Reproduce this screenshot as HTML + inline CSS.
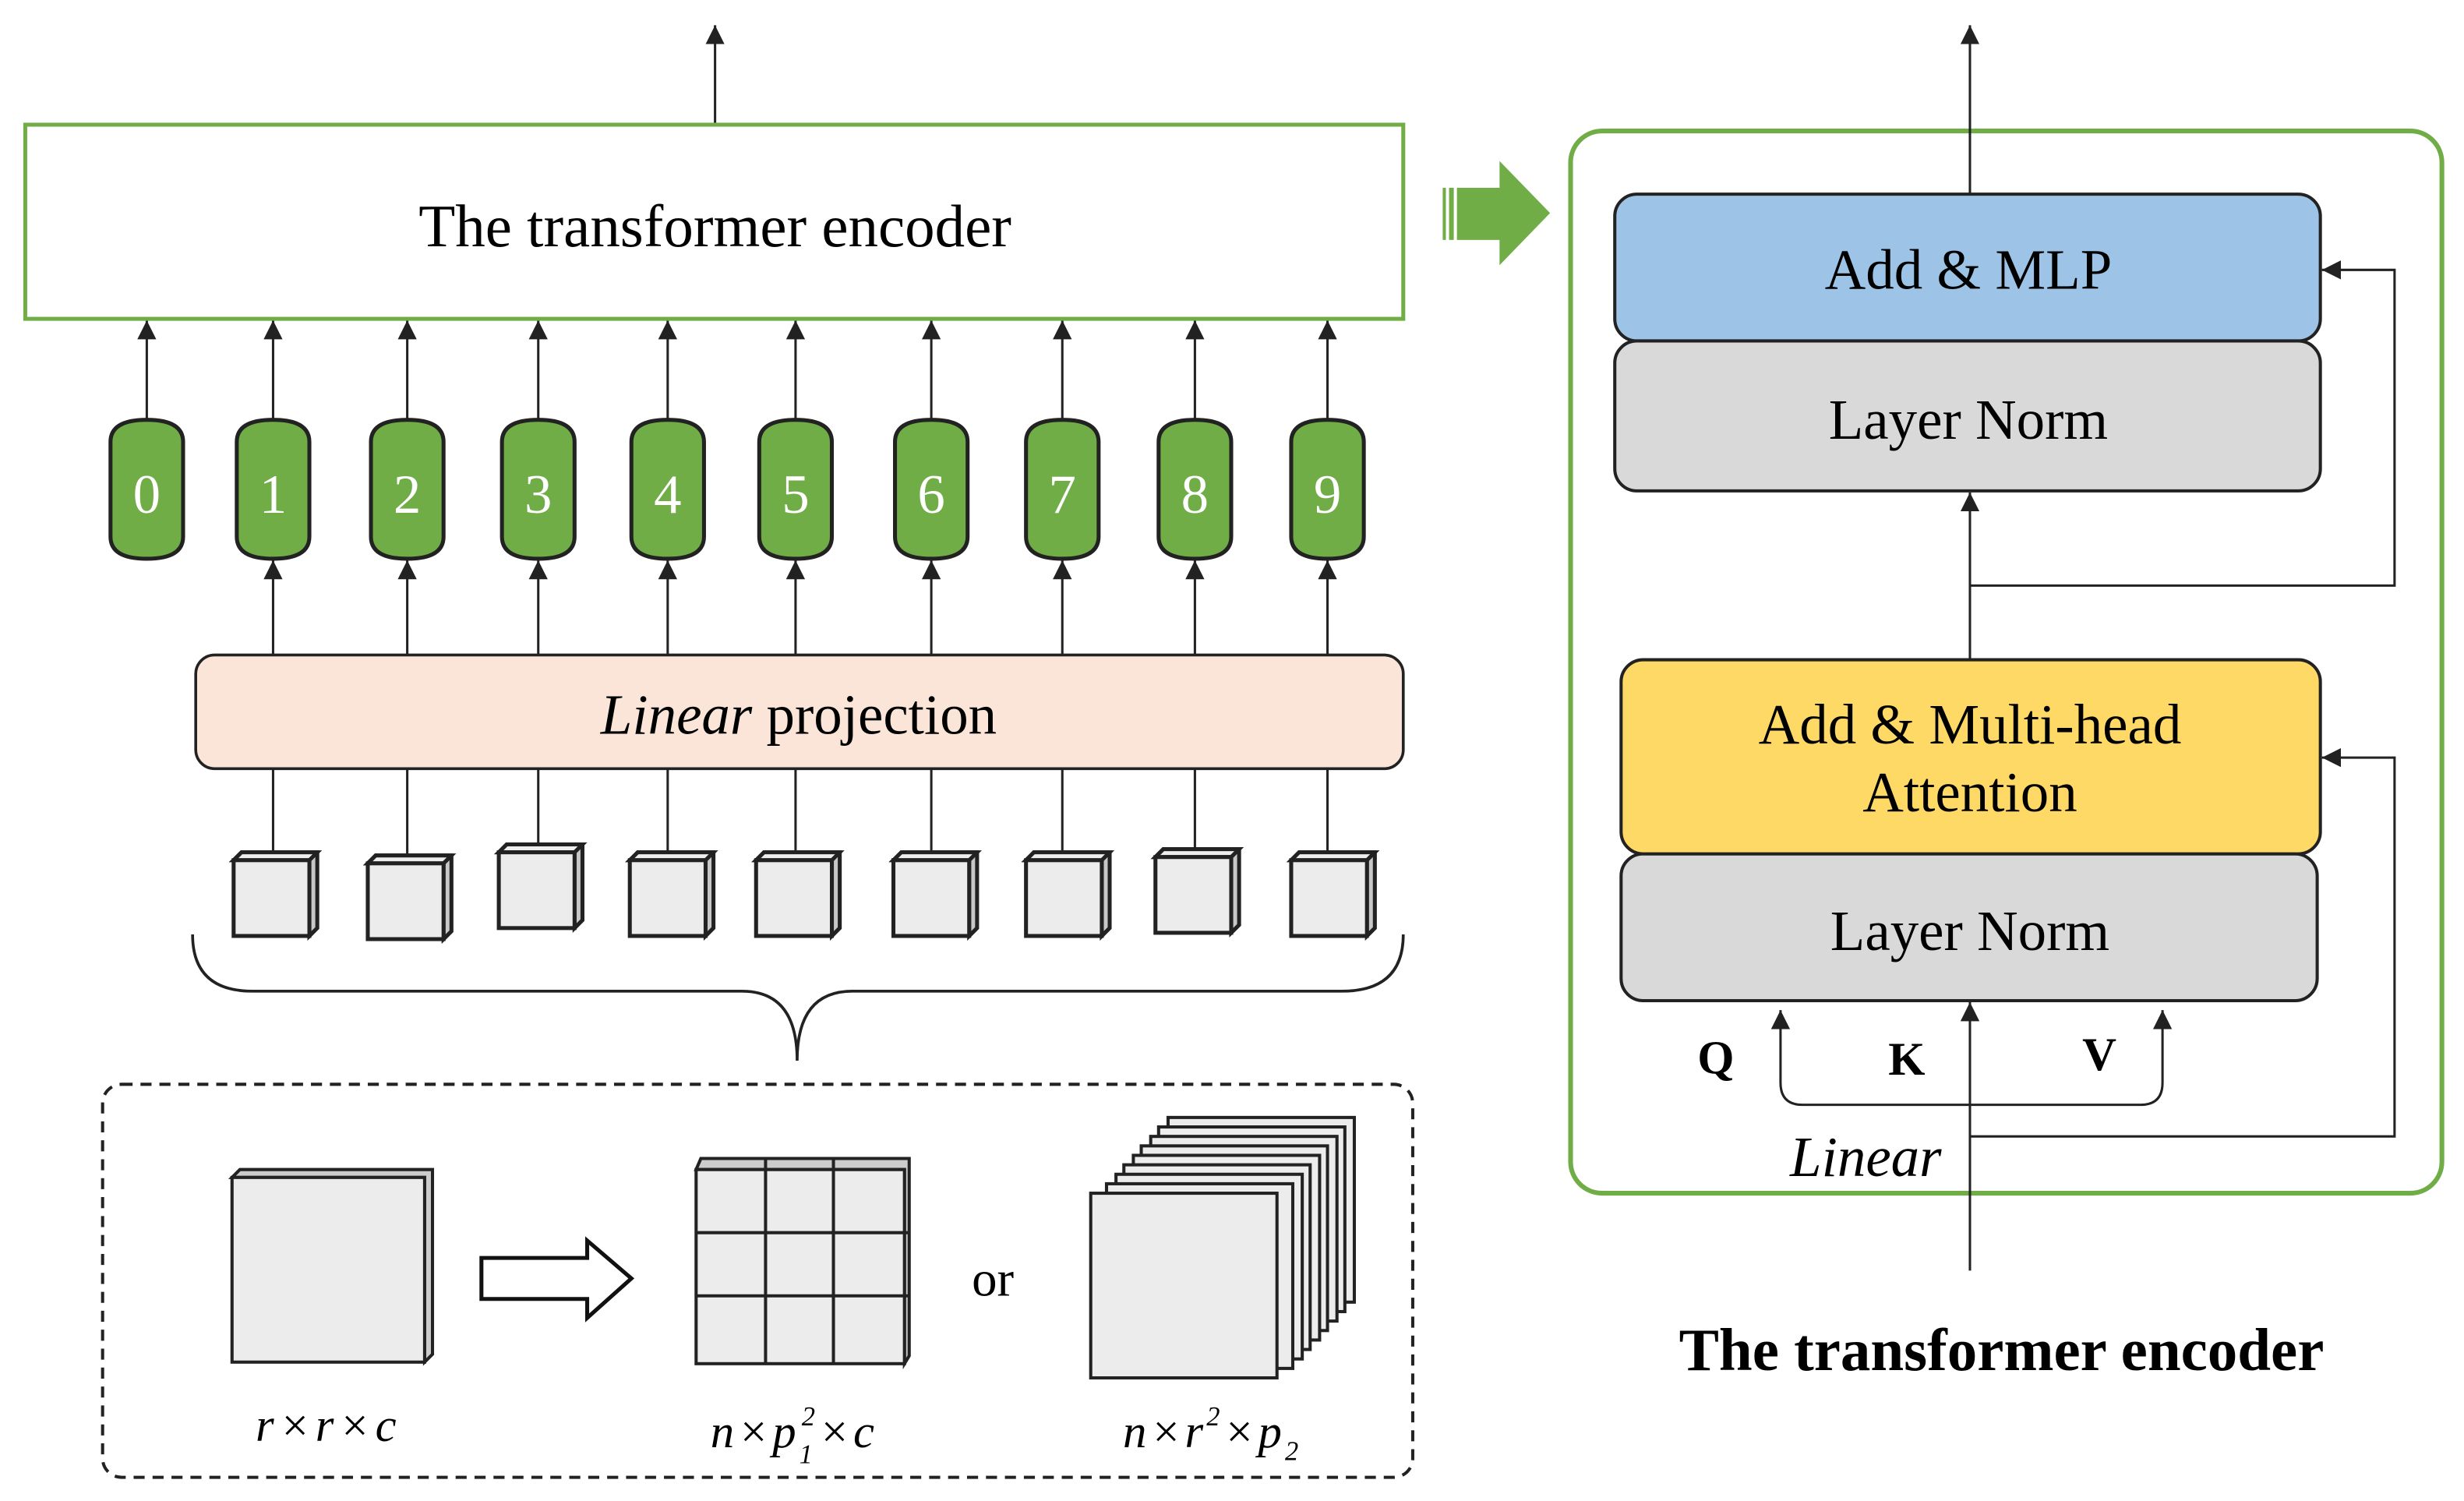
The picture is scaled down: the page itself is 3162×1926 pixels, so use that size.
<!DOCTYPE html>
<html><head><meta charset="utf-8"><style>html,body{margin:0;padding:0;background:#fff}svg{display:block}text{font-family:"Liberation Serif",serif}</style></head>
<body>
<svg width="3162" height="1926" viewBox="0 0 1561 951" preserveAspectRatio="none" xmlns="http://www.w3.org/2000/svg">
<defs>
<marker id="ah" markerWidth="12" markerHeight="12" refX="10" refY="5" orient="auto" markerUnits="userSpaceOnUse" viewBox="0 0 10 10"><path d="M0,0 L10,5 L0,10Z" fill="#222"/></marker>
<g id="cube"><path d="M0,5 L5,0 L53,0 L53,48 L48,53 L48,5Z" fill="#c8c8c8" stroke="#222" stroke-width="2.5"/><path d="M0,5 L5,0 L53,0 L48,5Z" fill="#eee" stroke="#222" stroke-width="2.5"/><rect x="0" y="5" width="48" height="48" fill="#ececec" stroke="#222" stroke-width="2.5"/></g>
<g id="tok"><path d="M-23,-30 Q-23,-44 0,-44 Q23,-44 23,-30 L23,30 Q23,44 0,44 Q-23,44 -23,30Z" fill="#70AD47" stroke="#222" stroke-width="2.5"/></g>
</defs>
<g stroke="#222" stroke-width="1.5" fill="none">
<line x1="453" y1="79" x2="453" y2="16" marker-end="url(#ah)"/>
<line x1="93" y1="266" x2="93" y2="203" marker-end="url(#ah)"/>
<line x1="173" y1="266" x2="173" y2="203" marker-end="url(#ah)"/>
<line x1="258" y1="266" x2="258" y2="203" marker-end="url(#ah)"/>
<line x1="341" y1="266" x2="341" y2="203" marker-end="url(#ah)"/>
<line x1="423" y1="266" x2="423" y2="203" marker-end="url(#ah)"/>
<line x1="504" y1="266" x2="504" y2="203" marker-end="url(#ah)"/>
<line x1="590" y1="266" x2="590" y2="203" marker-end="url(#ah)"/>
<line x1="673" y1="266" x2="673" y2="203" marker-end="url(#ah)"/>
<line x1="757" y1="266" x2="757" y2="203" marker-end="url(#ah)"/>
<line x1="841" y1="266" x2="841" y2="203" marker-end="url(#ah)"/>
<line x1="173" y1="415" x2="173" y2="355" marker-end="url(#ah)"/>
<line x1="258" y1="415" x2="258" y2="355" marker-end="url(#ah)"/>
<line x1="341" y1="415" x2="341" y2="355" marker-end="url(#ah)"/>
<line x1="423" y1="415" x2="423" y2="355" marker-end="url(#ah)"/>
<line x1="504" y1="415" x2="504" y2="355" marker-end="url(#ah)"/>
<line x1="590" y1="415" x2="590" y2="355" marker-end="url(#ah)"/>
<line x1="673" y1="415" x2="673" y2="355" marker-end="url(#ah)"/>
<line x1="757" y1="415" x2="757" y2="355" marker-end="url(#ah)"/>
<line x1="841" y1="415" x2="841" y2="355" marker-end="url(#ah)"/>
<line x1="173" y1="487" x2="173" y2="542"/><line x1="258" y1="487" x2="258" y2="544"/><line x1="341" y1="487" x2="341" y2="536"/><line x1="423" y1="487" x2="423" y2="542"/><line x1="504" y1="487" x2="504" y2="542"/><line x1="590" y1="487" x2="590" y2="542"/><line x1="673" y1="487" x2="673" y2="542"/><line x1="757" y1="487" x2="757" y2="540"/><line x1="841" y1="487" x2="841" y2="542"/>
</g>
<rect x="16" y="79" width="873" height="123" fill="#fff" stroke="#70AD47" stroke-width="2.5"/>
<text x="453" y="156" font-size="38" text-anchor="middle">The transformer encoder</text>
<g font-size="35" fill="#fff" text-anchor="middle">
<use href="#tok" x="93" y="310"/><text x="93" y="325">0</text>
<use href="#tok" x="173" y="310"/><text x="173" y="325">1</text>
<use href="#tok" x="258" y="310"/><text x="258" y="325">2</text>
<use href="#tok" x="341" y="310"/><text x="341" y="325">3</text>
<use href="#tok" x="423" y="310"/><text x="423" y="325">4</text>
<use href="#tok" x="504" y="310"/><text x="504" y="325">5</text>
<use href="#tok" x="590" y="310"/><text x="590" y="325">6</text>
<use href="#tok" x="673" y="310"/><text x="673" y="325">7</text>
<use href="#tok" x="757" y="310"/><text x="757" y="325">8</text>
<use href="#tok" x="841" y="310"/><text x="841" y="325">9</text>
</g>
<rect x="124" y="415" width="765" height="72" rx="12" fill="#FAE5D8" stroke="#222" stroke-width="1.8"/>
<text x="506" y="465" font-size="36" text-anchor="middle"><tspan font-style="italic">Linear</tspan> projection</text>
<use href="#cube" x="148" y="540"/><use href="#cube" x="233" y="542"/><use href="#cube" x="316" y="535"/><use href="#cube" x="399" y="540"/><use href="#cube" x="479" y="540"/><use href="#cube" x="566" y="540"/><use href="#cube" x="650" y="540"/><use href="#cube" x="732" y="538"/><use href="#cube" x="818" y="540"/>
<path d="M122,592 Q122,628 160,628 L470,628 Q505,628 505,672 Q505,628 540,628 L850,628 Q889,628 889,592" fill="none" stroke="#222" stroke-width="1.8"/>
<rect x="65" y="687" width="830" height="249" rx="12" fill="none" stroke="#222" stroke-width="2" stroke-dasharray="7,5"/>
<path d="M147,746 L152,741 L274,741 L274,858 L269,863 L269,746Z" fill="#ccc" stroke="#222" stroke-width="2"/>
<rect x="147" y="746" width="122" height="117" fill="#ececec" stroke="#222" stroke-width="2"/>
<path d="M305,797 L372,797 L372,786 L400,810 L372,835 L372,823 L305,823Z" fill="#fff" stroke="#111" stroke-width="2.5"/>
<path d="M441,741 L444,734 L576,734 L576,859 L573,864 L573,741Z" fill="#ccc" stroke="#222" stroke-width="2"/>
<rect x="441" y="741" width="132" height="123" fill="#ececec" stroke="#222" stroke-width="2"/>
<g stroke="#222" stroke-width="2"><line x1="485" y1="734" x2="485" y2="864"/><line x1="528" y1="734" x2="528" y2="864"/><line x1="441" y1="781" x2="576" y2="781"/><line x1="441" y1="821" x2="576" y2="821"/></g>
<text x="629" y="821" font-size="32" text-anchor="middle">or</text>
<g fill="#ececec" stroke="#222" stroke-width="2">
<rect x="740" y="708" width="118" height="117"/><rect x="734" y="714" width="118" height="117"/><rect x="729" y="720" width="118" height="117"/><rect x="723" y="726" width="118" height="117"/><rect x="718" y="732" width="118" height="117"/><rect x="712" y="738" width="118" height="117"/><rect x="707" y="744" width="118" height="117"/><rect x="701" y="750" width="118" height="117"/><rect x="691" y="756" width="118" height="117"/>
</g>
<g font-size="30" font-style="italic" text-anchor="middle">
<text x="208" y="913" letter-spacing="3">r×r×c</text>
<text x="503" y="917" letter-spacing="2">n×p<tspan font-size="17" dy="10">1</tspan><tspan font-size="17" dx="-9" dy="-24">2</tspan><tspan dy="14">×c</tspan></text>
<text x="768" y="917" letter-spacing="2">n×r<tspan font-size="17" dy="-14">2</tspan><tspan dy="14">×p</tspan><tspan font-size="17" dy="8">2</tspan></text>
</g>
<g fill="#70AD47"><rect x="914" y="119" width="2" height="33"/><rect x="918" y="119" width="3" height="33"/><path d="M923,119 L950,119 L950,102 L982,135 L950,168 L950,152 L923,152Z"/></g>
<rect x="995" y="83" width="552" height="673" rx="20" fill="none" stroke="#70AD47" stroke-width="3"/>
<g stroke="#222" stroke-width="1.5" fill="none">
<line x1="1248" y1="123" x2="1248" y2="16" marker-end="url(#ah)"/>
<line x1="1248" y1="418" x2="1248" y2="312" marker-end="url(#ah)"/>
<polyline points="1248,371 1517,371 1517,171 1471,171" marker-end="url(#ah)"/>
<line x1="1248" y1="805" x2="1248" y2="635" marker-end="url(#ah)"/>
<polyline points="1248,720 1517,720 1517,480 1471,480" marker-end="url(#ah)"/>
<path d="M1248,700 L1142,700 Q1128,700 1128,686 L1128,640" marker-end="url(#ah)"/>
<path d="M1248,700 L1356,700 Q1370,700 1370,686 L1370,640" marker-end="url(#ah)"/>
</g>
<rect x="1023" y="216" width="447" height="95" rx="14" fill="#D9D9D9" stroke="#222" stroke-width="2"/>
<rect x="1023" y="123" width="447" height="93" rx="14" fill="#9DC3E6" stroke="#222" stroke-width="2"/>
<rect x="1027" y="541" width="441" height="93" rx="14" fill="#D9D9D9" stroke="#222" stroke-width="2"/>
<rect x="1027" y="418" width="443" height="123" rx="14" fill="#FFD966" stroke="#222" stroke-width="2"/>
<g font-size="36" text-anchor="middle">
<text x="1247" y="183">Add &amp; MLP</text>
<text x="1247" y="278">Layer Norm</text>
<text x="1248" y="471">Add &amp; Multi-head</text>
<text x="1248" y="514">Attention</text>
<text x="1248" y="602">Layer Norm</text>
</g>
<g font-size="30" font-weight="bold" text-anchor="middle"><text x="1087" y="680">Q</text><text x="1208" y="681">K</text><text x="1330" y="678">V</text></g>
<text x="1182" y="745" font-size="36" font-style="italic" text-anchor="middle">Linear</text>
<text x="1268" y="868" font-size="38" font-weight="bold" text-anchor="middle">The transformer encoder</text>
</svg>
</body></html>
